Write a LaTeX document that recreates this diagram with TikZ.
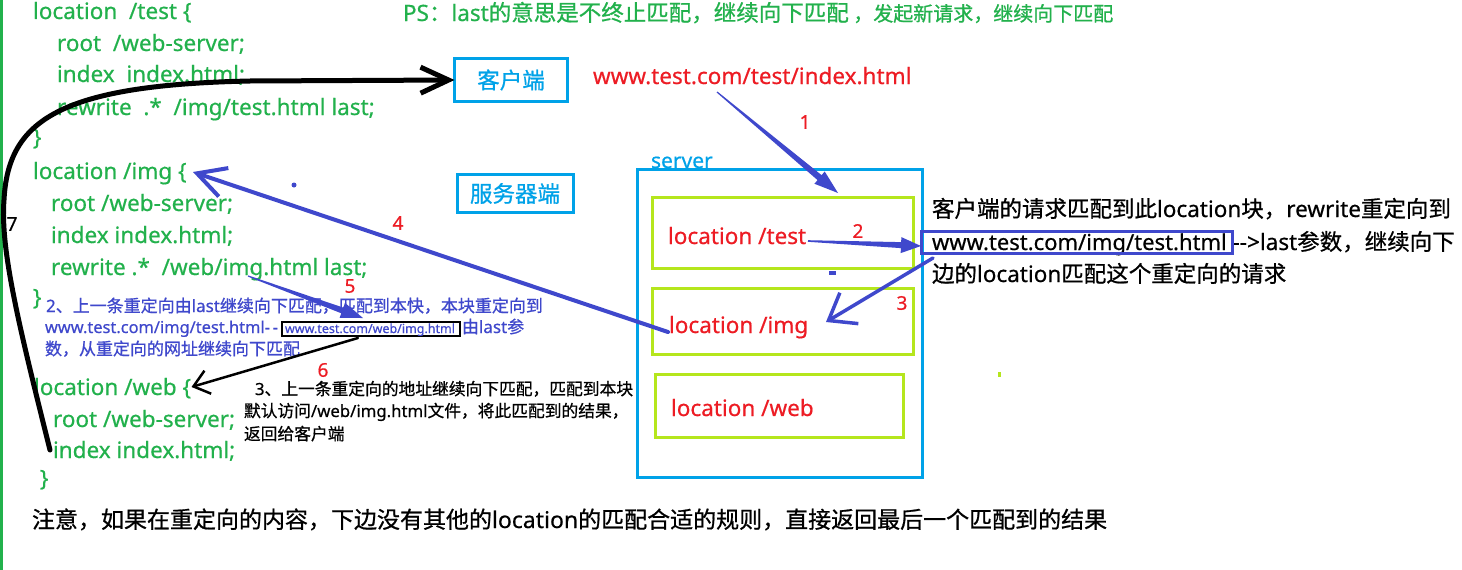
\documentclass[tikz,border=0pt]{standalone}
\usepackage{fontspec}
\setmainfont{Noto Sans}[FakeBold=0.5]
\newfontfamily\cjk{Noto Sans CJK SC}[FakeBold=0.8]
\usetikzlibrary{arrows.meta,calc}
\definecolor{codegreen}{RGB}{34,177,76}
\definecolor{skyblue}{RGB}{0,162,232}
\definecolor{lgreen}{RGB}{181,230,29}
\definecolor{redtxt}{RGB}{237,28,36}
\definecolor{indigo}{RGB}{63,72,204}
\newcommand\zh[1]{{\cjk #1}}
\newcommand\fsz[1]{\fontsize{#1}{#1}\selectfont}
\newcommand\taparrow[6]{%
  \coordinate (tpB) at ($(#2)!#6!(#1)$);
  \fill[indigo] ($(#1)!#3!90:(#2)$) -- ($(tpB)!#4!90:(#2)$) -- ($(tpB)!#5!90:(#2)$) -- (#2)
    -- ($(tpB)!#5!-90:(#2)$) -- ($(tpB)!#4!-90:(#2)$) -- ($(#1)!#3!-90:(#2)$) -- cycle;}
\begin{document}
\begin{tikzpicture}[x=1pt,y=-1pt,
  every node/.style={inner sep=0pt, outer sep=0pt},
  code/.style={text=codegreen, font={\fsz{22.5}}, anchor=base west},
  redt/.style={text=redtxt, font={\fsz{22.5}}, anchor=base west},
  num/.style={text=redtxt, font={\fsz{19}}, anchor=center},
  sblue/.style={text=indigo, font={\fsz{17}}, anchor=base west},
  sblack/.style={text=black, font={\fsz{16.75}}, anchor=base west},
  bigt/.style={text=black, font={\fsz{22.5}}, anchor=base west},
  bluebox/.style={draw=skyblue, line width=3pt},
  locbox/.style={draw=lgreen, line width=3pt},
  handarrow/.style={line cap=round, line join=round}
]
\useasboundingbox (0,0) rectangle (1462,570);
\fill[white] (0,0) rectangle (1462,570);
\fill[codegreen] (0,0) rectangle (3,570);

% code blocks
\node[code] (t1) at (33,19) {location\ \ /test \{};
\node[code] (t2) at (57,51) {root\ \ /web-server;};
\node[code] (t3) at (57,82) {index\ \ index.html;};
\node[code] (t4) at (57,115) {rewrite\ \ .*\ \ /img/test.html last;};
\node[code] (t5) at (33,145) {\}};
\node[code] (i1) at (33,179) {location /img \{};
\node[code] (i2) at (51,211) {root /web-server;};
\node[code] (i3) at (51,243) {index index.html;};
\node[code] (i4) at (51,275) {rewrite .*\ \ /web/img.html last;};
\node[code] (i5) at (33,305) {\}};
\node[code] (w1) at (34,395) {location /web \{};
\node[code] (w2) at (53,427) {root /web-server;};
\node[code] (w3) at (53,458) {index index.html;};
\node[code] (w4) at (40,486) {\}};

% PS line
\node[anchor=base west, text=codegreen, font={\fsz{22.5}}] (ps) at (403,21)
  {PS\zh{：}last\zh{的意思是不终止匹配，继续向下匹配}{\fsz{20}\zh{ ，发起新请求，继续向下匹配}}};

% client / server boxes
\node[bluebox, minimum width=113pt, minimum height=43pt, text=skyblue, font={\fsz{22.5}\cjk}] (client) at (511,80) {客户端};
\node[bluebox, minimum width=116pt, minimum height=38pt, text=skyblue, font={\fsz{22.5}\cjk}] (srvend) at (515,193.5) {服务器端};

\node[redt] (url) at (593,84) {www.test.com/test/index.html};

\node[bluebox, minimum width=285pt, minimum height=308pt] (server) at (779.5,323) {};
\node[anchor=base west, text=skyblue, font={\fsz{21}}] (srvlbl) at (651,168) {server};
\node[locbox, minimum width=261pt, minimum height=71pt] (lbtest) at (782.5,232.5) {};
\node[locbox, minimum width=261pt, minimum height=66pt] (lbimg) at (782.5,321) {};
\node[locbox, minimum width=248pt, minimum height=63pt] (lbweb) at (779,405.5) {};
\node[redt] (ltest) at (668,244) {location /test};
\node[redt] (limg) at (669,333) {location /img};
\node[redt] (lweb) at (671,416) {location /web};

% right explanation
\node[bigt] (r1) at (932,217) {\zh{客户端的请求匹配到此}location\zh{块，}rewrite\zh{重定向到}};
\node[bigt] (r2) at (932,250) {{\fsz{22}www.test.com/img/test.html}\ -{}-{}>last\zh{参数，继续向下}};
\node[draw=indigo, line width=3pt, minimum width=311pt, minimum height=21.5pt] (ubox) at (1077,242.5) {};

\node[bigt] (r3) at (932,282) {\zh{边的}location\zh{匹配这个重定向的请求}};

% blue note
\node[sblue] (b1) at (46,312) {2\zh{、上一条重定向由}last\zh{继续向下匹配，匹配到本快，本块重定向到}};
\node[sblue, font={\fsz{16.4}}] (b2) at (45,333) {www.test.com/img/test.html-{}\,-};
\node[draw=black, line width=2.5pt, minimum width=178pt, minimum height=14pt] (wbox) at (371,329) {};
\node[anchor=base west, text=indigo, font={\fsz{12.5}}] (wtxt) at (285,333) {www.test.com/web/img.html};
\node[sblue] (b3) at (462,333) {\zh{由}last\zh{参}};
\node[sblue] (b4) at (45,355) {\zh{数，从重定向的网址继续向下匹配}};

% black note
\node[sblack] (k1) at (255,395) {3\zh{、上一条重定向的地址继续向下匹配，匹配到本块}};
\node[sblack] (k2) at (244,417) {\zh{默认访问}/web/img.html\zh{文件，将此匹配到的结果，}};
\node[sblack] (k3) at (244,440) {\zh{返回给客户端}};

% bottom note
\node[anchor=base west, font={\fsz{23}}] (note) at (32,528)
  {\zh{注意，如果在重定向的内容，下边没有其他的}location\zh{的匹配合适的规则，直接返回最后一个匹配到的结果}};

% numbers
\node[num] (n1) at (805,122) {1};
\node[num] (n2) at (858,231) {2};
\node[num] (n3) at (902,303) {3};
\node[num] (n4) at (398,223) {4};
\node[num] (n5) at (350,286) {5};
\node[num] (n6) at (323,370) {6};
\node[num, text=black] (n7) at (12,224) {7};

% stray marks
\fill[indigo] (294,185) circle (2.5);
\fill[indigo] (829,271) rectangle (836,275);
\fill[lgreen] (998,372) rectangle (1001,377);

% arrows
\coordinate (a1s) at (717,92);
\coordinate (a1t) at (838,193);
\taparrow{a1s}{a1t}{0.6pt}{3.2pt}{8pt}{24pt}
\coordinate (a2s) at (808,241);
\coordinate (a2t) at (921,246);
\taparrow{a2s}{a2t}{0.8pt}{3pt}{8pt}{20pt}
\coordinate (a5s) at (248,276);
\coordinate (a5t) at (363,318);
\taparrow{a5s}{a5t}{0.6pt}{3pt}{8pt}{22pt}

\coordinate (a3s) at (933,258);
\coordinate (a3t) at (826,322);
\draw[indigo, line width=3.5pt, handarrow, -{Straight Barb[length=24pt,width=36pt]}] (a3s) -- (a3t);
\coordinate (a4s) at (668,332);
\coordinate (a4t) at (193,172);
\draw[indigo, line width=4pt, handarrow, -{Straight Barb[length=28pt,width=30pt]}] (a4s) -- (a4t);
\coordinate (a6s) at (358,338);
\coordinate (a6t) at (191.5,387);
\draw[black, line width=2.5pt, handarrow, -{Straight Barb[length=15pt,width=24pt]}] (a6s) -- (a6t);
\coordinate (a7s) at (50,450);
\coordinate (a7m) at (4,200);
\coordinate (a7n) at (250,81);
\draw[black, line width=5pt, handarrow, -{Straight Barb[length=28pt,width=26pt]}]
  (a7s) .. controls (20,330) and (0,250) .. (a7m) .. controls (8,120) and (60,85) .. (a7n) -- (client.west);
\end{tikzpicture}
\end{document}
